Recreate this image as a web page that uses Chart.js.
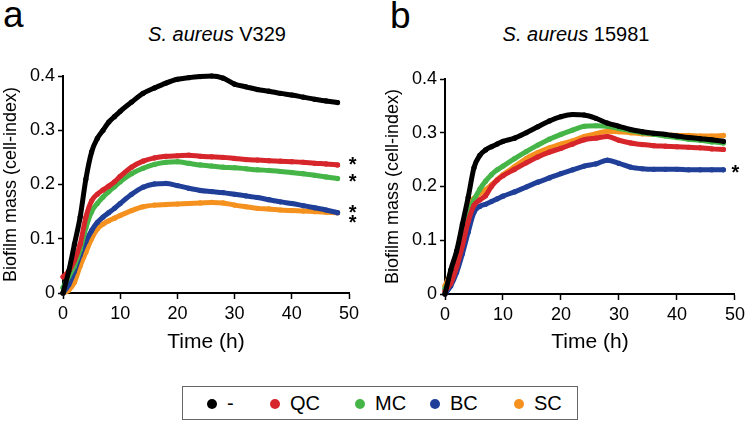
<!DOCTYPE html>
<html>
<head>
<meta charset="utf-8">
<script src="https://cdn.jsdelivr.net/npm/chart.js@4.4.0/dist/chart.umd.min.js"></script>
<style>
  body { margin: 0; background: #fff; font-family: "Liberation Sans", Arial, sans-serif; }
  #wrap { position: relative; width: 749px; height: 426px; overflow: hidden; }
  canvas { position: absolute; }
  .panel { position: absolute; font-size: 37px; line-height: 1; color: #000; }
  .ttl { position: absolute; font-size: 20px; line-height: 1; color: #000; white-space: nowrap; transform: translateX(-50%); }
  #legend { position: absolute; left: 182px; top: 386px; width: 396px; height: 34px; border: 1px solid #666; box-sizing: border-box; }
  .item { position: absolute; top: 6px; font-size: 20px; line-height: 20px; white-space: nowrap; }
  .dot { display: inline-block; width: 10px; height: 10px; border-radius: 50%; margin-right: 10px; vertical-align: 1px; }
</style>
</head>
<body>
<div id="wrap">
  <div class="panel" style="left:3px; top:-4px;">a</div>
  <div class="panel" style="left:390px; top:-3px;">b</div>
  <div class="ttl" style="left:217px; top:24px;"><i>S. aureus</i> V329</div>
  <div class="ttl" style="left:576px; top:24px;"><i>S. aureus</i> 15981</div>
  <canvas id="chartA" width="372" height="358" style="left:0; top:0;"></canvas>
  <canvas id="chartB" width="367" height="358" style="left:382px; top:0;"></canvas>
  <div id="legend"></div>
</div>
<script>
// temps de mesure (h)
const times = [0, 1, 2, 3, 4, 5, 6, 7, 8, 9, 10, 12, 14, 16, 18, 20, 22, 24, 26, 28, 30, 32, 34, 36, 38, 40, 42, 44, 46, 48];

const seriesNames = ["-", "QC", "MC", "BC", "SC"];
const seriesColors = ["#000000", "#d7262b", "#46b548", "#203f98", "#f5911e"];

const xTicks = [0, 10, 20, 30, 40, 50];
const yTicks = [0, 0.1, 0.2, 0.3, 0.4];

// S. aureus V329
const aCtrl = [0, 0.04, 0.09, 0.14, 0.21, 0.26, 0.285, 0.3, 0.315, 0.325, 0.335, 0.352, 0.368, 0.378, 0.387, 0.394, 0.397, 0.399, 0.4, 0.396, 0.385, 0.38, 0.375, 0.372, 0.368, 0.365, 0.361, 0.357, 0.354, 0.351];
const aQC = [0.03, 0.04, 0.06, 0.09, 0.14, 0.17, 0.182, 0.19, 0.197, 0.205, 0.215, 0.232, 0.243, 0.249, 0.252, 0.253, 0.254, 0.252, 0.251, 0.25, 0.248, 0.246, 0.245, 0.244, 0.243, 0.242, 0.241, 0.239, 0.238, 0.236];
const aMC = [0.01, 0.03, 0.05, 0.08, 0.12, 0.15, 0.165, 0.177, 0.187, 0.196, 0.205, 0.22, 0.23, 0.237, 0.241, 0.242, 0.239, 0.236, 0.234, 0.232, 0.231, 0.229, 0.227, 0.226, 0.224, 0.222, 0.22, 0.217, 0.214, 0.211];
const aBC = [0, 0.015, 0.04, 0.07, 0.095, 0.115, 0.13, 0.14, 0.148, 0.156, 0.165, 0.182, 0.195, 0.201, 0.202, 0.198, 0.193, 0.189, 0.187, 0.185, 0.182, 0.179, 0.176, 0.172, 0.168, 0.165, 0.161, 0.157, 0.153, 0.148];
const aSC = [0, 0.005, 0.02, 0.05, 0.075, 0.1, 0.118, 0.127, 0.133, 0.138, 0.143, 0.152, 0.159, 0.162, 0.163, 0.164, 0.165, 0.166, 0.167, 0.166, 0.162, 0.159, 0.156, 0.155, 0.153, 0.152, 0.151, 0.15, 0.149, 0.148];

// S. aureus 15981
const bCtrl = [0, 0.045, 0.08, 0.13, 0.18, 0.235, 0.258, 0.268, 0.274, 0.279, 0.284, 0.29, 0.3, 0.311, 0.322, 0.33, 0.334, 0.333, 0.327, 0.318, 0.312, 0.306, 0.302, 0.299, 0.297, 0.294, 0.291, 0.289, 0.287, 0.284];
const bQC = [0.005, 0.02, 0.05, 0.09, 0.135, 0.165, 0.175, 0.183, 0.2, 0.212, 0.22, 0.232, 0.244, 0.255, 0.264, 0.271, 0.279, 0.287, 0.29, 0.293, 0.286, 0.281, 0.278, 0.276, 0.275, 0.274, 0.273, 0.272, 0.27, 0.269];
const bMC = [0.01, 0.03, 0.06, 0.1, 0.15, 0.175, 0.195, 0.21, 0.222, 0.231, 0.238, 0.252, 0.265, 0.277, 0.288, 0.297, 0.305, 0.312, 0.313, 0.312, 0.308, 0.304, 0.3, 0.297, 0.294, 0.291, 0.288, 0.286, 0.283, 0.281];
const bBC = [0, 0.015, 0.04, 0.075, 0.115, 0.152, 0.163, 0.167, 0.172, 0.177, 0.182, 0.19, 0.199, 0.208, 0.216, 0.224, 0.231, 0.238, 0.242, 0.249, 0.243, 0.236, 0.233, 0.232, 0.232, 0.232, 0.231, 0.231, 0.231, 0.231];
const bSC = [0.015, 0.04, 0.075, 0.12, 0.165, 0.178, 0.187, 0.194, 0.203, 0.213, 0.222, 0.237, 0.252, 0.263, 0.272, 0.279, 0.285, 0.293, 0.298, 0.303, 0.302, 0.3, 0.298, 0.297, 0.296, 0.295, 0.295, 0.294, 0.294, 0.295];

// Asterisques (séries significatives)
const starsA = ["QC", "MC", "BC", "SC"];
const starsB = ["BC"];

const FONT = "'Liberation Sans', Arial, sans-serif";

// Dessine les * à droite de la dernière valeur
const starPlugin = {
  id: "stars",
  afterDatasetsDraw(chart, args, opts) {
    const { ctx, scales } = chart;
    ctx.save();
    ctx.fillStyle = "#000";
    ctx.font = "bold 20px " + FONT;
    ctx.textAlign = "center";
    ctx.textBaseline = "middle";
    opts.names.forEach((name, i) => {
      const ds = chart.data.datasets.find((d) => d.label === name);
      const last = ds.data[ds.data.length - 1];
      const x = scales.x.getPixelForValue(last.x) + opts.dx;
      const y = scales.y.getPixelForValue(last.y) + (opts.dy[i] || 0) + 4;
      ctx.fillText("*", x, y);
    });
    ctx.restore();
  },
};

function makeDatasets(values) {
  return values.map((vals, i) => ({
    label: seriesNames[i],
    data: vals.map((v, k) => ({ x: times[k], y: v })),
    borderColor: seriesColors[i],
    backgroundColor: seriesColors[i],
    borderWidth: 5,
    pointRadius: 2.6,
    pointBorderWidth: 0,
    cubicInterpolationMode: "monotone",
    borderCapStyle: "round",
    clip: false,
  }));
}

function makeChart(id, values, area, stars) {
  const canvas = document.getElementById(id);
  return new Chart(canvas, {
    type: "line",
    data: { datasets: makeDatasets(values) },
    plugins: [starPlugin],
    options: {
      responsive: false,
      animation: false,
      layout: { padding: { top: area.top, right: area.right, left: 0, bottom: 0 } },
      plugins: {
        legend: { display: false },
        tooltip: { enabled: false },
        stars: stars,
      },
      scales: {
        x: {
          type: "linear",
          min: 0,
          max: 50,
          afterBuildTicks: (s) => { s.ticks = xTicks.map((v) => ({ value: v })); },
          afterFit: (s) => { s.height = canvas.height - area.bottom; },
          ticks: { color: "#000", font: { family: FONT, size: 18 }, padding: 4, maxRotation: 0 },
          grid: { drawOnChartArea: false, color: "#000", tickLength: 6, tickWidth: 1.5 },
          border: { color: "#000", width: 2 },
          title: { display: true, text: "Time (h)", color: "#000", font: { family: FONT, size: 21 }, padding: { top: 4, bottom: 3 } },
        },
        y: {
          min: 0,
          max: 0.4,
          afterBuildTicks: (s) => { s.ticks = yTicks.map((v) => ({ value: v })); },
          afterFit: (s) => { s.width = 63; },
          ticks: { color: "#000", font: { family: FONT, size: 18 }, padding: 3 },
          grid: { drawOnChartArea: false, color: "#000", tickLength: 5, tickWidth: 1.5 },
          border: { color: "#000", width: 2 },
          title: { display: true, text: "Biofilm mass (cell-index)", color: "#000", font: { family: FONT, size: 18 }, padding: { top: 0, bottom: 0 } },
        },
      },
    },
  });
}

makeChart("chartA", [aCtrl, aQC, aMC, aBC, aSC], { top: 76, right: 23, bottom: 293 },
  { names: starsA, dx: 15, dy: [-3, 0, -3, 7] });
makeChart("chartB", [bCtrl, bQC, bMC, bBC, bSC], { top: 79, right: 11, bottom: 294 },
  { names: starsB, dx: 12, dy: [0] });

// Légende commune
const legendPos = [24, 87, 172, 247, 331];
document.getElementById("legend").innerHTML = seriesNames
  .map((n, i) =>
    `<span class="item" style="left:${legendPos[i]}px"><span class="dot" style="background:${seriesColors[i]}"></span>${n}</span>`)
  .join("");
</script>
</body>
</html>
